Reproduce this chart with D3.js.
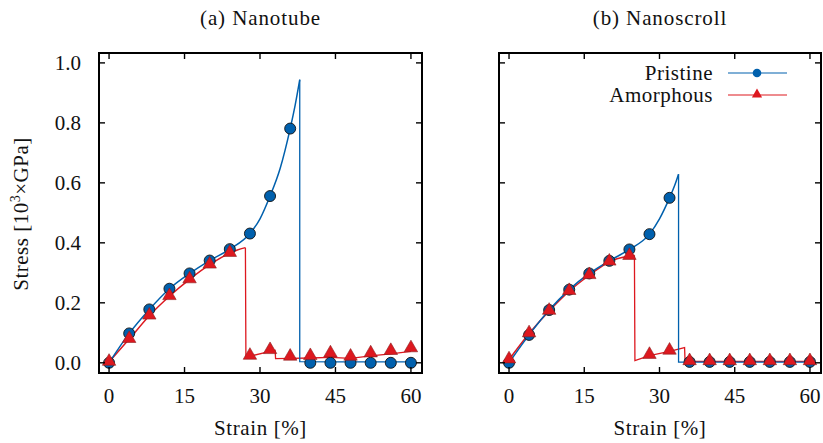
<!DOCTYPE html>
<html>
<head>
<meta charset="utf-8">
<script src="https://cdn.jsdelivr.net/npm/d3@7"></script>
<style>
  body { margin: 0; background: #fff; }
</style>
</head>
<body>
<script>
// strain values where markers are drawn
const markerX = [0, 4, 8, 12, 16, 20, 24, 28, 32, 36, 40, 44, 48, 52, 56, 60];

// (a) nanotube
const tubePristineMk = [0, 0.098, 0.178, 0.247, 0.298, 0.341, 0.379, 0.431, 0.556, 0.781, 0.0, 0.0, 0.0, 0.0, 0.0, 0.0];
const tubeAmorphMk   = [0.003, 0.079, 0.157, 0.222, 0.278, 0.327, 0.366, 0.023, 0.042, 0.02, 0.022, 0.031, 0.02, 0.031, 0.039, 0.048];
const tubePristineUp = [[0,0],[4,0.098],[8,0.178],[12,0.247],[16,0.298],[20,0.341],[24,0.379],[28,0.431],[30,0.48],[32,0.556],[34,0.648],[36,0.781],[37,0.86],[37.9,0.944]];
const tubePristineDn = [[37.9,0.944],[37.9,0.004],[45,0.003],[60,0.003]];
const tubeAmorphUp   = [[0,0.003],[4,0.079],[8,0.157],[12,0.222],[16,0.278],[20,0.327],[24,0.366],[25.5,0.376],[27.1,0.384]];
const tubeAmorphDn   = [[27.1,0.384],[27.2,0.018],[28,0.022],[32,0.038],[33,0.042],[33.1,0.014],[36,0.015],[40,0.016],[44,0.018],[48,0.015],[52,0.023],[56,0.03],[60,0.038]];

// (b) nanoscroll
const scrollPristineMk = [0, 0.093, 0.176, 0.244, 0.298, 0.34, 0.378, 0.429, 0.55, 0.003, 0.003, 0.003, 0.003, 0.003, 0.003, 0.003];
const scrollAmorphMk   = [0.011, 0.098, 0.173, 0.239, 0.292, 0.337, 0.356, 0.026, 0.04, 0.005, 0.005, 0.005, 0.005, 0.005, 0.005, 0.005];
const scrollPristineUp = [[0,0],[4,0.093],[8,0.176],[12,0.244],[16,0.298],[20,0.34],[24,0.378],[28,0.429],[30,0.48],[32,0.55],[33,0.59],[33.8,0.629]];
const scrollPristineDn = [[33.8,0.629],[33.8,0.002],[45,0.002],[60,0.002]];
const scrollAmorphUp   = [[0,0.011],[4,0.098],[8,0.173],[12,0.239],[16,0.292],[20,0.337],[24,0.356],[25,0.359]];
const scrollAmorphDn   = [[25,0.359],[25.1,0.007],[28,0.024],[32,0.038],[35,0.051],[35.1,0.005],[45,0.005],[60,0.005]];

const xTicks = [0, 15, 30, 45, 60];
const yTicks = [0, 0.2, 0.4, 0.6, 0.8, 1.0];
const blue = '#0060ad', red = '#dd181f';
const font = '"Liberation Serif"';
const fs = 21;

const W = 823, H = 443;
const svg = d3.select('body').append('svg').attr('width', W).attr('height', H);

const y = d3.scaleLinear().domain([-0.034, 1.033]).range([373, 53]);

function label(g, xx, yy, anchor, txt, ls) {
  return g.append('text').attr('x', xx).attr('y', yy).attr('text-anchor', anchor)
    .attr('font-size', fs).style('font-family', font).style('letter-spacing', (ls || 0) + 'px')
    .attr('fill', '#111').text(txt);
}

const panels = [
  {title: '(a) Nanotube', left: 99, right: 422, yLabels: true, legend: false,
   pUp: tubePristineUp, pDn: tubePristineDn, aUp: tubeAmorphUp, aDn: tubeAmorphDn,
   pMk: tubePristineMk, aMk: tubeAmorphMk},
  {title: '(b) Nanoscroll', left: 499, right: 821, yLabels: false, legend: true,
   pUp: scrollPristineUp, pDn: scrollPristineDn, aUp: scrollAmorphUp, aDn: scrollAmorphDn,
   pMk: scrollPristineMk, aMk: scrollAmorphMk}
];

function drawCircle(g, cx, cy, small) {
  g.append('circle').attr('cx', cx).attr('cy', cy).attr('r', small ? 4.3 : 5.5)
    .attr('fill', blue).attr('stroke', small ? 'none' : '#111').attr('stroke-width', 0.9);
}
function drawTri(g, cx, cy, small) {
  const tri = d3.symbol().type(d3.symbolTriangle).size(small ? 45 : 78);
  g.append('path').attr('d', tri).attr('transform', `translate(${cx},${cy - 0.5})`)
    .attr('fill', red).attr('stroke', small ? 'none' : '#8a2020').attr('stroke-width', 0.6);
}

panels.forEach(p => {
  const x = d3.scaleLinear().domain([-2, 62.2]).range([p.left, p.right]);
  const g = svg.append('g');
  const smooth = d3.line().x(d => x(d[0])).y(d => y(d[1])).curve(d3.curveMonotoneX);
  const straight = d3.line().x(d => x(d[0])).y(d => y(d[1]));

  // lines
  g.append('path').attr('d', straight(p.aDn)).attr('fill', 'none').attr('stroke', red).attr('stroke-width', 1.3);
  g.append('path').attr('d', smooth(p.aUp)).attr('fill', 'none').attr('stroke', red).attr('stroke-width', 1.5);
  g.append('path').attr('d', straight(p.pDn)).attr('fill', 'none').attr('stroke', blue).attr('stroke-width', 1.3);
  g.append('path').attr('d', smooth(p.pUp)).attr('fill', 'none').attr('stroke', blue).attr('stroke-width', 1.5);

  // markers: pristine first, amorphous on top
  markerX.forEach((mx, i) => drawCircle(g, x(mx), y(p.pMk[i])));
  markerX.forEach((mx, i) => drawTri(g, x(mx), y(p.aMk[i])));

  // frame + inward ticks
  const top = 53, bot = 373, tl = 6;
  g.append('rect').attr('x', p.left).attr('y', top).attr('width', p.right - p.left).attr('height', bot - top)
    .attr('fill', 'none').attr('stroke', '#000').attr('stroke-width', 2);
  xTicks.forEach(t => {
    g.append('line').attr('x1', x(t)).attr('x2', x(t)).attr('y1', bot).attr('y2', bot - tl).attr('stroke', '#000').attr('stroke-width', 1.4);
    g.append('line').attr('x1', x(t)).attr('x2', x(t)).attr('y1', top).attr('y2', top + tl).attr('stroke', '#000').attr('stroke-width', 1.4);
    label(g, x(t), 403, 'middle', t);
  });
  yTicks.forEach(t => {
    g.append('line').attr('x1', p.left).attr('x2', p.left + tl).attr('y1', y(t)).attr('y2', y(t)).attr('stroke', '#000').attr('stroke-width', 1.4);
    g.append('line').attr('x1', p.right).attr('x2', p.right - tl).attr('y1', y(t)).attr('y2', y(t)).attr('stroke', '#000').attr('stroke-width', 1.4);
    if (p.yLabels) label(g, p.left - 18, y(t) + 7, 'end', t.toFixed(1));
  });

  const cx = (p.left + p.right) / 2;
  label(g, cx, 25, 'middle', p.title, 0.9);
  label(g, cx, 435, 'middle', 'Strain [%]', 0.6);

  if (p.legend) {
    const items = [{name: 'Pristine', col: blue, mk: drawCircle, yy: 73},
                   {name: 'Amorphous', col: red, mk: drawTri, yy: 95}];
    items.forEach(it => {
      label(g, 713, it.yy + 7, 'end', it.name, 0.5);
      g.append('line').attr('x1', 728).attr('x2', 787).attr('y1', it.yy).attr('y2', it.yy).attr('stroke', it.col).attr('stroke-width', 1.2);
      it.mk(g, 757, it.yy, true);
    });
  }
});

// y axis title
svg.append('text').attr('transform', 'translate(28,214) rotate(-90)').attr('text-anchor', 'middle')
  .attr('font-size', fs).style('font-family', font).style('letter-spacing', '0.5px').attr('fill', '#111')
  .html('Stress [10<tspan dy="-8" font-size="14">3</tspan><tspan dy="8">×GPa]</tspan>');
</script>
</body>
</html>
